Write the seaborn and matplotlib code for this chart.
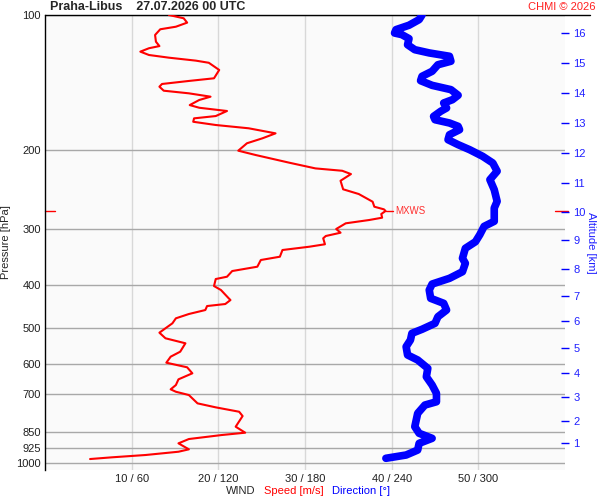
import matplotlib
matplotlib.use('Agg')
import matplotlib.pyplot as plt
import numpy as np
import pandas as pd
import seaborn as sns
from matplotlib.ticker import NullLocator

# wind speed profile [m/s] vs pressure [hPa]
speed_p = [100, 101.7, 104.0, 106.2, 107.6, 110.8, 114.7, 117.3, 118.6, 120.7, 122.8, 124.5,
           126.4, 127.8, 132.6, 138.4, 140.3, 142.5, 144.5, 147.5, 149.5, 152.1, 154.7, 158.8,
           161.0, 163.7, 168.0, 170.0, 173.0, 175.9, 178.9, 183.6, 188.3, 193.2, 200.7, 205.2,
           213.5, 219.8, 222.5, 226.3, 234.2, 244.7, 250.7, 260.8, 267.6, 271.2, 273.5, 277.8,
           283.1, 286.5, 291.4, 300.0, 305.8, 311.0, 314.7, 324.5, 328.6, 334.2, 345.9, 351.8,
           364.1, 372.3, 383.3, 387.9, 402.1, 410.4, 428.3, 432.1, 441.0, 445.6, 454.8, 464.2,
           474.6, 486.9, 499.5, 510.9, 525.8, 539.5, 563.3, 577.9, 596.0, 610.3, 629.4, 649.2,
           668.5, 683.4, 691.9, 703.7, 734.4, 749.6, 766.7, 783.8, 827.9, 853.8, 864.0, 882.0,
           901.7, 929.9, 941.4, 957.4, 968.9, 977.4]
speed = [14.3, 16.0, 16.4, 15.1, 13.3, 12.7, 12.8, 13.2, 12.0, 11.0, 12.0, 14.3,
         17.4, 18.9, 20.1, 19.5, 16.6, 13.5, 13.2, 13.7, 16.6, 19.1, 17.8, 16.7,
         17.8, 21.0, 19.7, 17.2, 17.1, 19.7, 23.5, 26.6, 25.1, 23.3, 22.3, 24.3,
         28.2, 31.2, 34.3, 35.3, 34.1, 34.4, 36.2, 37.8, 38.0, 39.1, 39.3, 38.8,
         38.9, 37.4, 34.7, 33.6, 34.1, 32.4, 32.1, 32.3, 30.5, 27.4, 27.1, 24.9,
         24.5, 21.6, 21.0, 19.7, 19.5, 20.3, 21.2, 21.4, 20.8, 18.7, 18.5, 16.6,
         15.1, 14.7, 13.9, 13.2, 13.9, 16.2, 15.6, 14.5, 14.0, 16.4, 17.0, 15.4,
         15.1, 14.5, 15.1, 16.6, 17.6, 19.7, 22.4, 22.8, 22.0, 23.1, 20.4, 16.6,
         15.4, 16.6, 15.4, 11.6, 7.7, 5.2]

# wind direction profile [deg] vs pressure [hPa]
dir_p = [100, 102.4, 105.4, 107.8, 109.7, 110.6, 112.9, 116.5, 119.5, 121.5, 123.6, 126.8,
         129.1, 133.5, 137.0, 140.1, 143.5, 146.7, 151.0, 154.5, 157.1, 161.2, 163.9, 168.3,
         171.2, 174.1, 177.1, 180.2, 184.9, 189.7, 194.6, 199.7, 206.6, 213.8, 223.0, 232.9,
         245.2, 260.3, 269.4, 288.4, 296.0, 309.0, 320.3, 331.3, 348.7, 357.8, 373.6, 386.5,
         398.0, 410.4, 428.3, 439.4, 454.8, 470.7, 486.9, 502.1, 512.6, 530.4, 549.0, 572.9,
         587.8, 613.5, 640.6, 668.5, 697.6, 728.4, 740.8, 773.0, 827.9, 856.4, 878.8, 901.7,
         933.3, 957.4, 973.7]
direction = [261, 259, 252, 243, 242, 247, 252, 251, 256, 266, 280, 281,
             272, 268, 261, 260, 268, 281, 286, 282, 276, 278, 274, 269,
             270, 280, 286, 287, 280, 279, 286, 294, 303, 310, 313, 308,
             311, 313, 311, 311, 304, 301, 298, 291, 289, 291, 289, 280,
             268, 266, 267, 276, 278, 272, 270, 261, 254, 253, 250, 251,
             258, 265, 264, 268, 271, 271, 263, 258, 256, 259, 268, 259,
             258, 250, 236]

# altitude ticks [km] and their pressure levels [hPa]
alt_km = list(range(1, 17))
alt_p = [901.6, 805.3, 709.6, 628.4, 551.9, 481.9, 422.6, 369.0,
         317.4, 275.4, 236.6, 203.4, 174.4, 149.5, 128.0, 109.8]

p_ticks = [100, 200, 300, 400, 500, 600, 700, 850, 925, 1000]
x_ticks = [10, 20, 30, 40, 50]
x_labels = ['10 / 60', '20 / 120', '30 / 180', '40 / 240', '50 / 300']

df_speed = pd.DataFrame({'p': speed_p, 'v': speed})
df_dir = pd.DataFrame({'p': dir_p, 'v': np.array(direction) / 6.0})

sns.set_theme(style='white')
plt.rcParams['font.family'] = ['Liberation Sans', 'DejaVu Sans']

fig = plt.figure(figsize=(6, 5), dpi=100)
ax = fig.add_axes([0.075, 0.06, 0.8667, 0.91])
ax.set_facecolor('#fafafa')

ax.set_yscale('log')
ax.set_ylim(1034, 100)
ax.set_xlim(0, 60)

for x in x_ticks:
    ax.axvline(x, color='#d8d8d8', lw=1, zorder=0)
for p in p_ticks:
    ax.axhline(p, color='#a8a8a8', lw=1, zorder=0)

sns.lineplot(data=df_dir, x='v', y='p', sort=False, estimator=None, color='blue',
             lw=5.5, solid_capstyle='round', solid_joinstyle='round', ax=ax, zorder=3)
sns.lineplot(data=df_speed, x='v', y='p', sort=False, estimator=None, color='red',
             lw=1.5, solid_joinstyle='round', ax=ax, zorder=4)

# max wind marker
imax = int(np.argmax(speed))
vmax, pmax = speed[imax], speed_p[imax]
ax.plot([vmax, vmax + 0.8], [pmax, pmax], color='red', lw=1, zorder=4)
ax.text(vmax + 1.1, pmax, 'MXWS', color='#ff3030', fontsize=7, va='center')
ax.axhline(pmax, xmin=0, xmax=0.02, color='red', lw=1, clip_on=False)
ax.axhline(pmax, xmin=0.98, xmax=1.005, color='red', lw=1, clip_on=False)

ax.yaxis.set_minor_locator(NullLocator())
ax.set_yticks(p_ticks, [str(p) for p in p_ticks])
ax.set_xticks(x_ticks, x_labels)
ax.tick_params(axis='both', length=0, labelsize=8, colors='#202020', pad=3)
ax.set_xlabel('')
ax.set_ylabel('Pressure [hPa]', fontsize=8)
ax.yaxis.set_label_coords(-0.066, 0.5)

for side in ['top', 'right', 'bottom']:
    ax.spines[side].set_visible(False)
ax.spines['left'].set_color('black')
ax.spines['left'].set_linewidth(1)
ax.plot([0, 1.048], [1, 1], transform=ax.transAxes, color='black', lw=1, clip_on=False)

ax2 = ax.twinx()
ax2.set_yscale('log')
ax2.set_ylim(1034, 100)
ax2.yaxis.set_minor_locator(NullLocator())
ax2.set_yticks(alt_p, [str(k) for k in alt_km])
ax2.tick_params(axis='y', direction='inout', length=6, width=1, colors='blue',
                labelcolor='#2020ff', labelsize=8, pad=3)
ax2.set_ylabel('Altitude [km]', color='#2020ff', fontsize=8, rotation=270, labelpad=7)
for side in ['top', 'right', 'bottom', 'left']:
    ax2.spines[side].set_visible(False)

fig.text(0.083, 0.986, 'Praha-Libus    27.07.2026 00 UTC', fontsize=9, fontweight='bold',
         va='center', ha='left')
fig.text(0.993, 0.986, 'CHMI \u00a9 2026', fontsize=8, color='#ff2020', va='center', ha='right')
fig.text(0.377, 0.018, 'WIND', fontsize=8, va='center', ha='left')
fig.text(0.44, 0.018, 'Speed [m/s]', fontsize=8, color='red', va='center', ha='left')
fig.text(0.553, 0.018, 'Direction [\u00b0]', fontsize=8, color='blue', va='center', ha='left')

fig.savefig('out.png', dpi=100, facecolor='white')
